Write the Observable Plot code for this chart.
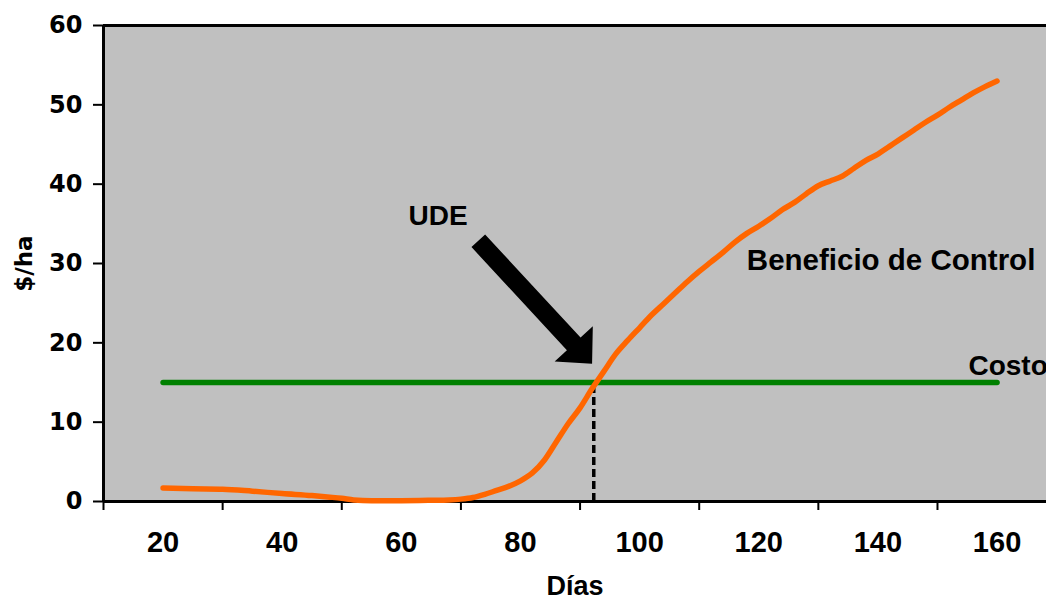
<!DOCTYPE html>
<html>
<head>
<meta charset="utf-8">
<script src="https://cdn.jsdelivr.net/npm/d3@7"></script>
<script src="https://cdn.jsdelivr.net/npm/@observablehq/plot@0.6"></script>
<style>
  html, body { margin: 0; padding: 0; background: #ffffff; }
  svg { display: block; }
</style>
</head>
<body>
<div id="chart"></div>
<script>
// ---- Data ----
const dias = [20,25,30,35,40,45,48,50,52,55,60,65,68,70,72,74,76,78,80,82,84,86,88,90,92,94,96,98,100,102,104,106,108,110,112,114,116,118,120,122,124,126,128,130,132,134,136,138,140,142,144,146,148,150,152,154,156,158,160];
const beneficio = [1.7,1.6,1.55,1.3,1.0,0.75,0.55,0.4,0.2,0.1,0.1,0.15,0.2,0.3,0.5,0.9,1.4,1.9,2.6,3.6,5.2,7.5,9.8,11.8,14.2,16.4,18.6,20.3,21.9,23.5,24.9,26.3,27.7,29.0,30.2,31.4,32.7,33.8,34.7,35.7,36.8,37.7,38.8,39.8,40.4,41.0,42.0,43.0,43.8,44.8,45.8,46.8,47.8,48.7,49.7,50.6,51.5,52.3,53.0];
const costoDias = [20, 160];
const costo = 15;
const udeDia = 92.3;
const xTickMarks = [10, 30, 50, 70, 90, 110, 130, 150];
const xTickLabels = [20, 40, 60, 80, 100, 120, 140, 160];
const yTicks = [0, 10, 20, 30, 40, 50, 60];
const xDomain = [10, 168.3];
const yDomain = [0, 60];
const labelTexts = ["UDE", "Beneficio de Control", "Costo"];
const labelDias = [61.2, 118.0, 155.2];
const labelValores = [34.8, 29.2, 16.0];
const labelSizes = [28, 29.5, 28];
const arrowFrom = [73.0, 32.8];
const arrowTo = [92.1, 17.3];

// ---- Tables built from the arrays ----
const curva = dias.map((d, i) => ({dia: d, valor: beneficio[i]}));
const costoLinea = costoDias.map(d => ({dia: d, valor: costo}));
const etiquetas = labelTexts.map((t, i) => ({text: t, dia: labelDias[i], valor: labelValores[i], size: labelSizes[i]}));
const flecha = [{x1: arrowFrom[0], y1: arrowFrom[1], x2: arrowTo[0], y2: arrowTo[1]}];

const arrowMark = Plot.link(flecha, {
  x1: "x1", y1: "y1", x2: "x2", y2: "y2",
  render(index, scales, values) {
    const g = d3.create("svg:g");
    for (const i of index) {
      const ax = values.x1[i], ay = values.y1[i], bx = values.x2[i], by = values.y2[i];
      const L = Math.hypot(bx - ax, by - ay);
      const ux = (bx - ax) / L, uy = (by - ay) / L;
      const nx = -uy, ny = ux;
      const w = 9.3, H = 26, hl = 27;
      const cx = bx - ux * hl, cy = by - uy * hl;
      const pts = [
        [ax + nx * w, ay + ny * w],
        [cx + nx * w, cy + ny * w],
        [cx + nx * H, cy + ny * H],
        [bx, by],
        [cx - nx * H, cy - ny * H],
        [cx - nx * w, cy - ny * w],
        [ax - nx * w, ay - ny * w]
      ];
      g.append("path")
        .attr("d", "M" + pts.map(p => p.join(",")).join("L") + "Z")
        .attr("fill", "black");
    }
    return g.node();
  }
});

const chart = Plot.plot({
  width: 1046,
  height: 599,
  marginLeft: 103,
  marginRight: 0,
  marginTop: 25,
  marginBottom: 98,
  style: {fontFamily: "Liberation Sans, Arial, sans-serif", fontWeight: "bold", color: "black", background: "white", overflow: "visible"},
  x: {domain: xDomain},
  y: {domain: yDomain},
  marks: [
    Plot.frame({fill: "#c0c0c0", stroke: "none"}),
    Plot.ruleY([yDomain[1]], {stroke: "black", strokeWidth: 3}),
    Plot.ruleY([yDomain[0]], {stroke: "black", strokeWidth: 3}),
    Plot.ruleX([xDomain[0]], {stroke: "black", strokeWidth: 3}),
    Plot.axisY({ticks: yTicks, tickSize: 10, tickPadding: 11, strokeWidth: 2, fontSize: 24, fontFamily: "DejaVu Sans", fontWeight: "bold", label: null}),
    Plot.axisX({ticks: xTickMarks, tickSize: 9, strokeWidth: 2, tickFormat: () => "", label: null}),
    Plot.axisX({ticks: xTickLabels, tickSize: 0, tickPadding: 30, fontSize: 29, fontWeight: "bold", label: null}),
    Plot.ruleX([udeDia], {y1: 0, y2: costo, stroke: "black", strokeWidth: 3.5, strokeDasharray: "8,4"}),
    Plot.line(costoLinea, {x: "dia", y: "valor", stroke: "#008000", strokeWidth: 5.5}),
    Plot.line(curva, {x: "dia", y: "valor", stroke: "#ff6600", strokeWidth: 5.5, strokeLinejoin: "round", curve: "monotone-x"}),
    arrowMark,
    Plot.text(etiquetas, {x: "dia", y: "valor", text: "text", fontSize: "size", textAnchor: "start", lineAnchor: "bottom", fontWeight: "bold", fill: "black"}),
    Plot.text(["Días"], {text: d => d, frameAnchor: "bottom", dy: 93, lineAnchor: "bottom", fontSize: 27, fontWeight: "bold", fill: "black"}),
    Plot.text(["$/ha"], {text: d => d, frameAnchor: "left", dx: -72, rotate: -90, textAnchor: "middle", lineAnchor: "bottom", fontSize: 23, fontFamily: "DejaVu Sans", fontWeight: "bold", fill: "black"})
  ]
});
document.getElementById("chart").appendChild(chart);
</script>
</body>
</html>
